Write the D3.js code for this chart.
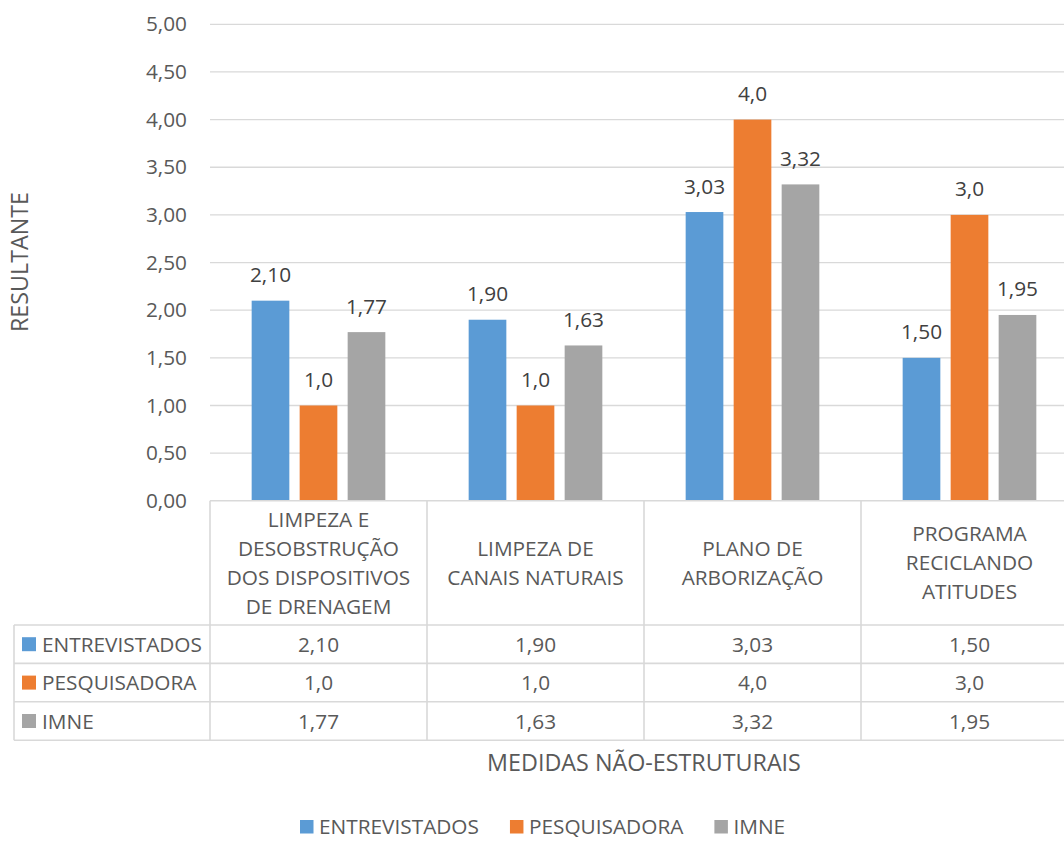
<!DOCTYPE html>
<html>
<head>
<meta charset="utf-8">
<script src="https://cdn.jsdelivr.net/npm/d3@7"></script>
<style>
  html, body { margin: 0; padding: 0; background: #fff; }
  svg { display: block; }
  text { font-family: "Open Sans", sans-serif; }
</style>
</head>
<body>
<svg id="chart" width="1064" height="841"></svg>
<script>
const categories = [
  ["LIMPEZA E", "DESOBSTRUÇÃO", "DOS DISPOSITIVOS", "DE DRENAGEM"],
  ["LIMPEZA DE", "CANAIS NATURAIS"],
  ["PLANO DE", "ARBORIZAÇÃO"],
  ["PROGRAMA", "RECICLANDO", "ATITUDES"]
];
const seriesNames = ["ENTREVISTADOS", "PESQUISADORA", "IMNE"];
const entrevistados = [2.10, 1.90, 3.03, 1.50];
const pesquisadora = [1.0, 1.0, 4.0, 3.0];
const imne = [1.77, 1.63, 3.32, 1.95];
const decimals = [2, 1, 2];
const colors = ["#5B9BD5", "#ED7D31", "#A5A5A5"];
const yTicks = [0, 0.5, 1, 1.5, 2, 2.5, 3, 3.5, 4, 4.5, 5];
const yTitle = "RESULTANTE";
const xTitle = "MEDIDAS NÃO-ESTRUTURAIS";

const seriesValues = [entrevistados, pesquisadora, imne];
const fmt = (v, d) => v.toFixed(d).replace(".", ",");
const catKeys = categories.map((c, i) => "c" + i);

const svg = d3.select("#chart");
const plotLeft = 210, plotRight = 1078, plotTop = 24.3, plotBottom = 500.8;
const tableLeft = 14, headerBottom = 625, rowH = 38.4;
const gridColor = "#D9D9D9", textColor = "#595959";
const fs = 20.8, titleFs = 23.3;

const y = d3.scaleLinear().domain([0, 5]).range([plotBottom, plotTop]);
const x0 = d3.scaleBand().domain(catKeys).range([plotLeft, plotRight]);
const x1 = d3.scaleBand().domain(seriesNames).range([0, x0.bandwidth()])
  .paddingInner(0.215).paddingOuter(0.868);

// gridlines
svg.append("g").selectAll("line").data(yTicks.filter(t => t > 0)).join("line")
  .attr("x1", plotLeft).attr("x2", plotRight)
  .attr("y1", d => y(d)).attr("y2", d => y(d))
  .attr("stroke", gridColor).attr("stroke-width", 1.3);

// y axis labels
const yAxis = d3.axisLeft(y).tickValues(yTicks).tickSize(0).tickPadding(23)
  .tickFormat(d => fmt(d, 2));
const ya = svg.append("g").attr("transform", `translate(${plotLeft},0)`).call(yAxis);
ya.select(".domain").remove();
ya.selectAll("text").attr("font-size", fs).attr("fill", textColor)
  .style("font-family", "'Open Sans', sans-serif");

// y title
svg.append("text").attr("transform", `translate(28,262) rotate(-90)`)
  .attr("text-anchor", "middle").attr("font-size", titleFs).attr("fill", textColor)
  .text(yTitle);

// bars
const groups = svg.append("g").selectAll("g").data(catKeys).join("g")
  .attr("transform", d => `translate(${x0(d)},0)`);
groups.each(function(ck, ci) {
  const g = d3.select(this);
  seriesNames.forEach((s, si) => {
    const v = seriesValues[si][ci];
    g.append("rect").attr("x", x1(s)).attr("width", x1.bandwidth())
      .attr("y", y(v)).attr("height", y(0) - y(v)).attr("fill", colors[si]);
    g.append("text").attr("x", x1(s) + x1.bandwidth() / 2).attr("y", y(v) - 18.5)
      .attr("text-anchor", "middle").attr("font-size", fs).attr("fill", "#404040")
      .text(fmt(v, decimals[si]));
  });
});

// table lines
const tl = svg.append("g").attr("stroke", gridColor).attr("stroke-width", 1.6);
tl.append("line").attr("x1", plotLeft).attr("x2", plotRight).attr("y1", plotBottom).attr("y2", plotBottom);
for (let r = 0; r <= 3; r++) {
  const yy = headerBottom + r * rowH;
  tl.append("line").attr("x1", tableLeft).attr("x2", plotRight).attr("y1", yy).attr("y2", yy);
}
tl.append("line").attr("x1", tableLeft).attr("x2", tableLeft)
  .attr("y1", headerBottom).attr("y2", headerBottom + 3 * rowH);
catKeys.forEach(k => {
  tl.append("line").attr("x1", x0(k)).attr("x2", x0(k))
    .attr("y1", plotBottom).attr("y2", headerBottom + 3 * rowH);
});

// category headers
categories.forEach((lines, ci) => {
  const cx = x0(catKeys[ci]) + x0.bandwidth() / 2;
  const cy = (plotBottom + headerBottom) / 2;
  const lh = 29;
  const t = svg.append("text").attr("text-anchor", "middle").attr("font-size", fs)
    .attr("fill", textColor);
  lines.forEach((ln, li) => {
    t.append("tspan").attr("x", cx)
      .attr("y", cy + (li - (lines.length - 1) / 2) * lh + 7.5)
      .text(ln);
  });
});

// table rows
seriesNames.forEach((s, si) => {
  const rowMid = headerBottom + (si + 0.5) * rowH;
  svg.append("rect").attr("x", 22).attr("y", rowMid - 7).attr("width", 14).attr("height", 14)
    .attr("fill", colors[si]);
  svg.append("text").attr("x", 42).attr("y", rowMid + 7.5).attr("font-size", fs)
    .attr("fill", textColor).text(s);
  seriesValues[si].forEach((v, ci) => {
    svg.append("text").attr("x", x0(catKeys[ci]) + x0.bandwidth() / 2).attr("y", rowMid + 7.5)
      .attr("text-anchor", "middle").attr("font-size", fs).attr("fill", textColor)
      .text(fmt(v, decimals[si]));
  });
});

// x title
svg.append("text").attr("x", 644).attr("y", 771).attr("text-anchor", "middle")
  .attr("font-size", titleFs).attr("fill", textColor).text(xTitle);

// legend
const lg = svg.append("g");
let lx = 300;
seriesNames.forEach((s, si) => {
  lg.append("rect").attr("x", lx).attr("y", 820).attr("width", 13.5).attr("height", 13.5)
    .attr("fill", colors[si]);
  const t = lg.append("text").attr("x", lx + 19).attr("y", 834).attr("font-size", fs)
    .attr("fill", textColor).text(s);
  lx += 19 + t.node().getComputedTextLength() + 31;
});
</script>
</body>
</html>
